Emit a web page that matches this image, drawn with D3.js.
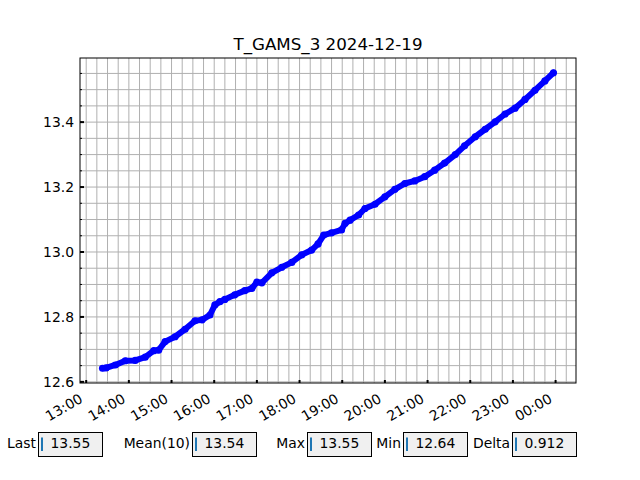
<!DOCTYPE html>
<html>
<head>
<meta charset="utf-8">
<script src="https://cdn.jsdelivr.net/npm/d3@7"></script>
<style>
  html, body { margin: 0; padding: 0; background: #fff; }
  svg { display: block; font-family: "DejaVu Sans", sans-serif; }
</style>
</head>
<body>
<svg id="chart" width="640" height="480"></svg>
<script>
// ---- data ----
const chartTitle = "T_GAMS_3 2024-12-19";
const times = ["13:23","13:28","13:41","13:55","14:09","14:23","14:35","14:42","14:51","15:05",
  "15:19","15:33","15:43","15:54","16:01","16:08","16:15","16:29","16:43","16:53",
  "17:00","17:07","17:21","17:35","17:49","18:03","18:17","18:26","18:34","18:45",
  "18:59","19:04","19:11","19:23","19:32","19:46","20:00","20:14","20:28","20:42",
  "20:56","21:10","21:24","21:39","21:52","22:07","22:21","22:35","22:49","23:03",
  "23:17","23:31","23:45","23:57"];
const values = [12.642,12.643,12.652,12.665,12.666,12.676,12.696,12.698,12.724,12.739,
  12.762,12.788,12.791,12.806,12.837,12.847,12.854,12.868,12.881,12.888,
  12.907,12.905,12.936,12.953,12.968,12.991,13.006,13.025,13.052,13.059,
  13.068,13.088,13.098,13.114,13.134,13.147,13.170,13.193,13.211,13.219,
  13.232,13.252,13.274,13.300,13.327,13.355,13.378,13.401,13.425,13.443,
  13.470,13.498,13.527,13.552];
const yTickValues = [12.6, 12.8, 13.0, 13.2, 13.4];
const statLabels = ["Last", "Mean(10)", "Max", "Min", "Delta"];
const statValues = ["13.55", "13.54", "13.55", "12.64", "0.912"];

// ---- layout ----
const L = 80, R = 576, T = 58, B = 383;
const svg = d3.select("#chart");

const parse = s => { const [h, m] = s.split(":").map(Number); return new Date(2024, 11, 19, h, m); };
const data = times.map((t, i) => ({ t: parse(t), v: values[i] }));

const tExt = d3.extent(data, d => d.t);
const tPad = (tExt[1] - tExt[0]) * 0.05;
const x = d3.scaleTime().domain([new Date(+tExt[0] - tPad), new Date(+tExt[1] + tPad)]).range([L, R]);
const vExt = d3.extent(values);
const vPad = (vExt[1] - vExt[0]) * 0.05;
const y = d3.scaleLinear().domain([vExt[0] - vPad, vExt[1] + vPad]).range([B, T]);

// grid
const grid = svg.append("g");
const minorX = d3.timeMinute.every(15).range(x.domain()[0], x.domain()[1]);
grid.selectAll("line.vx").data(minorX).join("line")
  .attr("x1", d => x(d)).attr("x2", d => x(d)).attr("y1", T).attr("y2", B)
  .attr("stroke", "#b0b0b0").attr("stroke-width", 1);
const minorY = d3.range(Math.ceil(y.domain()[0] / 0.05), Math.floor(y.domain()[1] / 0.05) + 1).map(k => k * 0.05);
grid.selectAll("line.hy").data(minorY).join("line")
  .attr("x1", L).attr("x2", R).attr("y1", d => y(d)).attr("y2", d => y(d))
  .attr("stroke", "#b0b0b0").attr("stroke-width", 1);

// line
const line = d3.line().x(d => x(d.t)).y(d => y(d.v)).curve(d3.curveLinear);
svg.append("path").datum(data).attr("d", line)
  .attr("fill", "none").attr("stroke", "#0000ff").attr("stroke-width", 6)
  .attr("stroke-linejoin", "round").attr("stroke-linecap", "round");
svg.selectAll("circle.pt").data(data).join("circle")
  .attr("cx", d => x(d.t)).attr("cy", d => y(d.v)).attr("r", 3.6).attr("fill", "#0000ff");

// frame
svg.append("rect").attr("x", L).attr("y", T).attr("width", R - L).attr("height", B - T)
  .attr("fill", "none").attr("stroke", "#000").attr("stroke-width", 1);

// x axis ticks (inward) and labels
const hours = d3.timeHour.every(1).range(x.domain()[0], x.domain()[1]);
const fmt = d3.timeFormat("%H:%M");
svg.selectAll("line.xt").data(hours).join("line")
  .attr("x1", d => x(d)).attr("x2", d => x(d)).attr("y1", B).attr("y2", B - 3)
  .attr("stroke", "#000").attr("stroke-width", 2);
svg.selectAll("text.xl").data(hours).join("text")
  .attr("transform", d => `translate(${x(d) - 2.5},${B + 18.5}) rotate(-30)`)
  .attr("text-anchor", "end").attr("font-size", "13.9px").attr("fill", "#000")
  .text(d => fmt(d));

// y axis ticks
svg.selectAll("line.ymin").data(minorY).join("line")
  .attr("x1", L).attr("x2", L + 2).attr("y1", d => y(d)).attr("y2", d => y(d))
  .attr("stroke", "#000").attr("stroke-width", 1);
svg.selectAll("line.yt").data(yTickValues).join("line")
  .attr("x1", L).attr("x2", L + 4).attr("y1", d => y(d)).attr("y2", d => y(d))
  .attr("stroke", "#000").attr("stroke-width", 2);
svg.selectAll("text.yl").data(yTickValues).join("text")
  .attr("x", L - 6).attr("y", d => y(d)).attr("dy", "0.36em")
  .attr("text-anchor", "end").attr("font-size", "13.9px").attr("fill", "#000")
  .text(d => d3.format(".1f")(d));

// title
svg.append("text").attr("x", (L + R) / 2).attr("y", 50).attr("text-anchor", "middle")
  .attr("font-size", "16.7px").attr("fill", "#000").text(chartTitle);

// stat boxes
const boxX = [38, 192, 307, 403, 512];
const g = svg.selectAll("g.stat").data(statLabels).join("g")
  .attr("transform", (d, i) => `translate(${boxX[i]},432)`);
g.append("text").attr("x", -2).attr("y", 16.3).attr("text-anchor", "end")
  .attr("font-size", "13.9px").attr("fill", "#000").text(d => d);
g.append("rect").attr("x", 0.5).attr("y", 0.5).attr("width", 64).attr("height", 24)
  .attr("fill", "#f0f0f0").attr("stroke", "#000").attr("stroke-width", 1);
g.append("rect").attr("x", 3).attr("y", 5.5).attr("width", 2).attr("height", 13.5).attr("fill", "#1f77b4");
g.append("text").attr("x", 12.5).attr("y", 16.3)
  .attr("font-size", "13.9px").attr("fill", "#000").text((d, i) => statValues[i]);
</script>
</body>
</html>
